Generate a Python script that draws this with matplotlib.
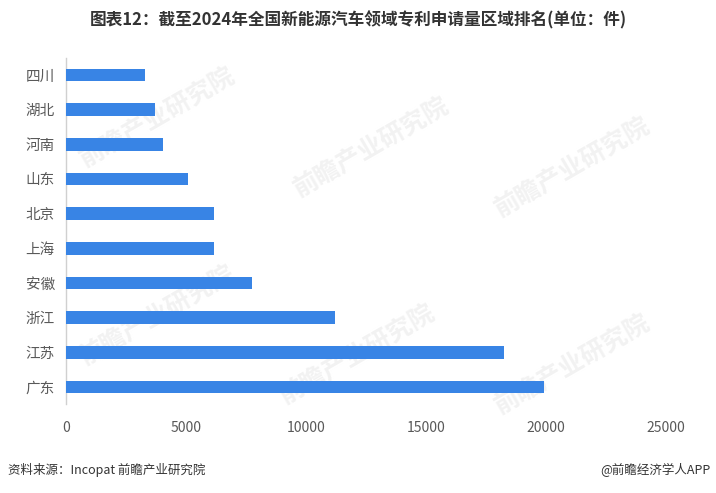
import matplotlib
matplotlib.use("Agg")
import matplotlib.pyplot as plt

plt.rcParams["font.family"] = ["Noto Sans CJK SC", "DejaVu Sans"]

# ---------------------------------------------------------------------------
# Data (top to bottom)
# ---------------------------------------------------------------------------
regions = ["四川", "湖北", "河南", "山东", "北京", "上海", "安徽", "浙江", "江苏", "广东"]
patents = [3280, 3700, 4030, 5100, 6180, 6180, 7760, 11200, 18270, 19920]
x_ticks = [0, 5000, 10000, 15000, 20000, 25000]

title = "图表12：截至2024年全国新能源汽车领域专利申请量区域排名(单位：件)"
source = "资料来源：Incopat 前瞻产业研究院"
credit = "@前瞻经济学人APP"

bar_color = "#3884E5"
text_color = "#595959"

fig = plt.figure(figsize=(7.16, 4.93), dpi=100)
ax = fig.add_axes([0.092, 0.18, 0.838, 0.703])
ax.set_zorder(2)
ax.patch.set_alpha(0)

ax.barh(range(len(regions)), patents, height=0.36, color=bar_color, zorder=3)
ax.set_yticks(range(len(regions)))
ax.set_yticklabels(regions, fontsize=10.5, color=text_color)
ax.set_ylim(len(regions) - 0.5, -0.5)

ax.set_xlim(0, 25000)
ax.set_xticks(x_ticks)
ax.set_xticklabels([str(t) for t in x_ticks], fontsize=10, color=text_color)
ax.tick_params(axis="both", length=0)
ax.tick_params(axis="x", pad=12)
ax.tick_params(axis="y", pad=8)

for side in ["top", "right", "bottom"]:
    ax.spines[side].set_visible(False)
ax.spines["left"].set_color("#d0d0d0")
ax.spines["left"].set_linewidth(1.0)

# faint watermarks, behind the bars
for (wx, wy) in [(0.22, 0.76), (0.52, 0.70), (0.80, 0.66), (0.22, 0.36),
                 (0.50, 0.28), (0.80, 0.26)]:
    fig.text(wx, wy, "前瞻产业研究院", fontsize=18, fontweight="bold",
             color="#f2f2f2", rotation=30, ha="center", va="center", zorder=0)

fig.text(0.5, 0.958, title, fontsize=12, fontweight="bold", color="#333333",
         ha="center", va="center")
fig.text(0.011, 0.047, source, fontsize=9, color="#333333", ha="left", va="center")
fig.text(0.992, 0.047, credit, fontsize=9, color="#333333", ha="right", va="center")

fig.savefig("out.png", dpi=100)
